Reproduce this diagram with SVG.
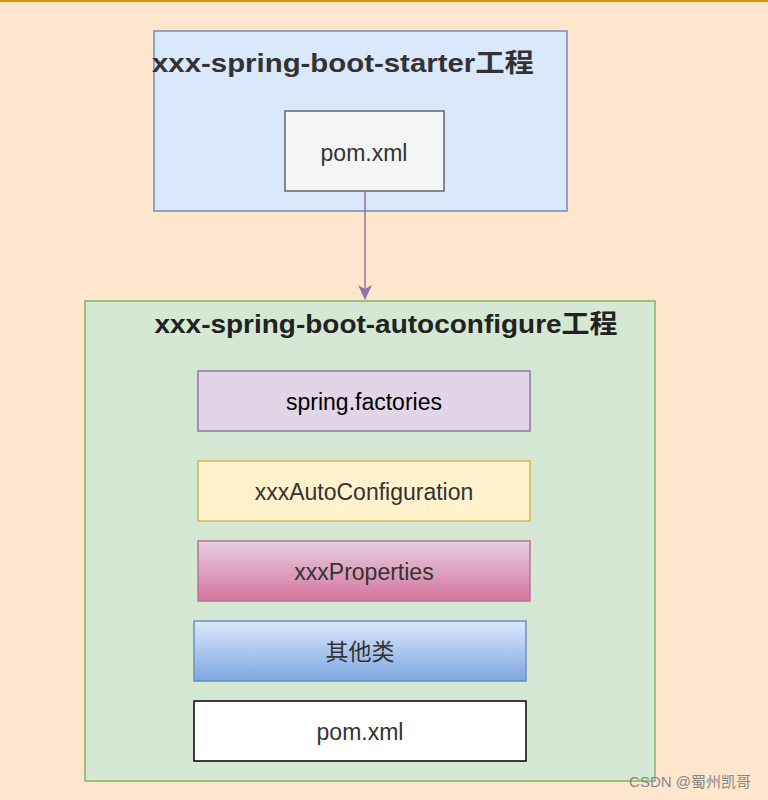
<svg xmlns="http://www.w3.org/2000/svg" width="768" height="800" viewBox="0 0 768 800">
<defs>
<style>
text{font-family:"Liberation Sans","Noto Sans CJK SC",sans-serif;fill:#333;text-anchor:middle}
.t{font-size:23px}
.b{font-size:26px;font-weight:bold}
</style>
<linearGradient id="pk" x1="0" y1="0" x2="0" y2="1"><stop offset="0" stop-color="#e6d0de"/><stop offset="1" stop-color="#d5739d"/></linearGradient>
<linearGradient id="bl" x1="0" y1="0" x2="0" y2="1"><stop offset="0" stop-color="#dae8fc"/><stop offset="1" stop-color="#7ea6e0"/></linearGradient>
<marker id="ar" markerWidth="16" markerHeight="16" refX="14" refY="7" orient="auto" markerUnits="userSpaceOnUse"><path d="M0,0 L15,7 L0,14 L4,7 z" fill="#9673a6"/></marker>
</defs>
<rect width="768" height="800" fill="#ffe6cc"/>
<rect width="768" height="2" fill="#d79b00"/>
<g id="starter">
<rect x="154" y="31" width="413" height="180" fill="#dae8fc" stroke="#6c8ebf" stroke-width="1.5"/>
<text x="343" y="72" style="font-size:26px;font-weight:bold" textLength="382" lengthAdjust="spacingAndGlyphs">xxx-spring-boot-starter工程</text>
</g>
<g id="pom1"><rect x="285" y="111" width="159" height="80" fill="#f5f5f5" stroke="#666" stroke-width="1.5"/><text class="t" x="364" y="161">pom.xml</text></g>
<g id="auto">
<rect x="85" y="301" width="570" height="480" fill="#d5e8d4" stroke="#82b366" stroke-width="1.5"/>
<text class="b" x="386" y="333" style="fill:#222" textLength="463" lengthAdjust="spacingAndGlyphs">xxx-spring-boot-autoconfigure工程</text>
</g>
<g id="factories"><rect x="198" y="371" width="332" height="60" fill="#e1d5e7" stroke="#9673a6" stroke-width="1.5"/><text class="t" x="364" y="410" style="fill:#000">spring.factories</text></g>
<g id="autoconf"><rect x="198" y="461" width="332" height="60" fill="#fff2cc" stroke="#d6b656" stroke-width="1.5"/><text class="t" x="364" y="500">xxxAutoConfiguration</text></g>
<g id="props"><rect x="198" y="541" width="332" height="60" fill="url(#pk)" stroke="#b5739d" stroke-width="1.5"/><text class="t" x="364" y="580">xxxProperties</text></g>
<g id="other"><rect x="194" y="621" width="332" height="60" fill="url(#bl)" stroke="#6c8ebf" stroke-width="1.5"/><text class="t" x="360" y="660">其他类</text></g>
<g id="pom2"><rect x="194" y="701" width="332" height="60" fill="#fff" stroke="#000" stroke-width="1.5"/><text class="t" x="360" y="740">pom.xml</text></g>
<g id="connectors"><line x1="365" y1="191" x2="365" y2="299" stroke="#9673a6" stroke-width="1.5" marker-end="url(#ar)"/></g>
<text x="690" y="787" style="font-size:15px;fill:#888">CSDN @蜀州凯哥</text>
</svg>
